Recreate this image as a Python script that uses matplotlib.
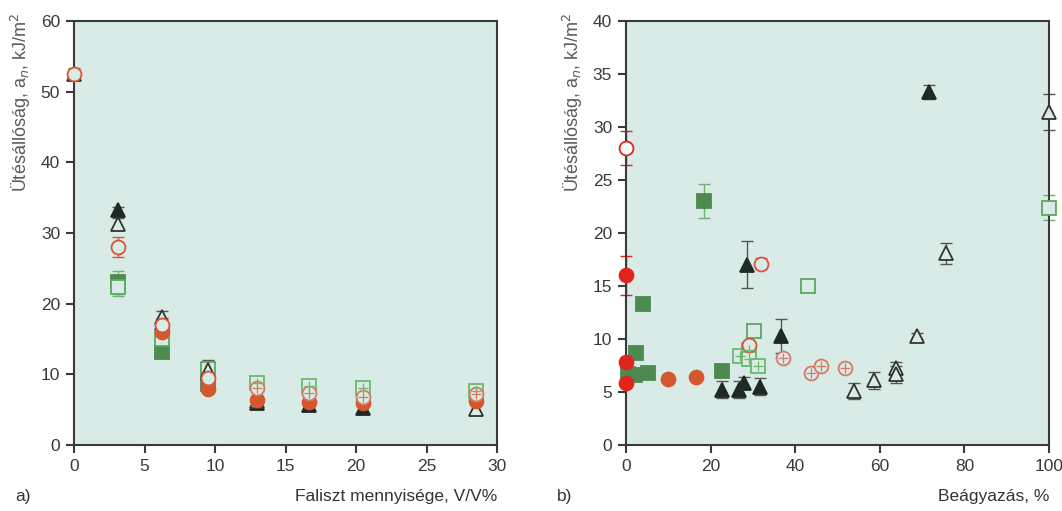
import matplotlib.pyplot as plt

plt.rcParams["font.family"] = ["Liberation Sans", "DejaVu Sans"]

# a) ütésállóság a faliszt mennyiségének függvényében
a_x_tri_f = [3.1, 6.25, 9.5, 13.0, 16.7, 20.5]
a_y_tri_f = [33.2, 17.2, 10.2, 5.9, 5.6, 5.2]
a_e_tri_f = [0.5, 0.8, 0.8, 0.6, 0.5, 0.5]

a_x_tri_o = [0.0, 3.1, 6.25, 9.5, 13.0, 28.5]
a_y_tri_o = [52.5, 31.3, 18.1, 10.6, 6.3, 5.1]
a_e_tri_o = [0.6, 0.8, 0.9, 1.4, 0.6, 0.8]

a_x_circ_o = [0.0, 3.1, 6.25, 9.5]
a_y_circ_o = [52.5, 28.0, 17.0, 9.5]
a_e_circ_o = [0.8, 1.4, 0.8, 0.7]

a_x_circ_f = [6.25, 9.5, 13.0, 16.7, 20.5, 28.5]
a_y_circ_f = [16.0, 7.9, 6.4, 6.1, 6.0, 6.3]
a_e_circ_f = [0.8, 0.4, 0.4, 0.4, 0.3, 0.4]

a_x_circ_x = [13.0, 16.7, 20.5, 28.5]
a_y_circ_x = [8.1, 7.4, 6.8, 7.2]
a_e_circ_x = [0.5, 0.4, 0.4, 0.4]

a_x_sq_f = [3.1, 6.25, 9.5]
a_y_sq_f = [23.0, 13.2, 8.7]
a_e_sq_f = [1.6, 0.4, 0.4]

a_x_sq_o = [3.1, 6.25, 9.5]
a_y_sq_o = [22.3, 15.0, 10.7]
a_e_sq_o = [1.2, 0.5, 0.5]

a_x_sq_x = [13.0, 16.7, 20.5, 28.5]
a_y_sq_x = [8.8, 8.4, 8.1, 7.6]
a_e_sq_x = [0.5, 0.5, 0.5, 0.4]

# b) ütésállóság a beágyazás függvényében
b_x_red_o = [0.0]
b_y_red_o = [28.0]
b_e_red_o = [1.6]

b_x_red_f = [0.0, 0.0, 0.0]
b_y_red_f = [16.0, 7.8, 5.9]
b_e_red_f = [1.8, 0.3, 0.3]

b_x_circ_o = [29.1, 31.8]
b_y_circ_o = [9.4, 17.1]
b_e_circ_o = [0.4, 0.5]

b_x_circ_f = [10.0, 16.6]
b_y_circ_f = [6.2, 6.4]
b_e_circ_f = [0.2, 0.2]

b_x_circ_x = [37.0, 43.7, 46.0, 51.8]
b_y_circ_x = [8.2, 6.8, 7.5, 7.3]
b_e_circ_x = [0.3, 0.3, 0.3, 0.3]

b_x_sq_f = [0.5, 2.0, 2.4, 3.9, 5.1, 18.5, 22.6]
b_y_sq_f = [6.7, 6.6, 8.7, 13.3, 6.8, 23.0, 7.0]
b_e_sq_f = [0.2, 0.2, 0.2, 0.2, 0.2, 1.6, 0.2]

b_x_sq_o = [30.3, 42.9, 100.0]
b_y_sq_o = [10.8, 15.0, 22.4]
b_e_sq_o = [0.2, 0.2, 1.2]

b_x_sq_x = [27.0, 29.1, 29.1, 31.1]
b_y_sq_x = [8.4, 9.0, 8.1, 7.5]
b_e_sq_x = [0.2, 0.2, 0.2, 0.2]

b_x_tri_f = [22.6, 26.8, 27.9, 31.7, 28.5, 36.6, 71.7]
b_y_tri_f = [5.2, 5.2, 5.9, 5.5, 17.0, 10.3, 33.3]
b_e_tri_f = [0.8, 0.8, 0.5, 0.8, 2.2, 1.6, 0.7]

b_x_tri_o = [54.0, 58.5, 63.8, 63.8, 68.9, 75.7, 100.0]
b_y_tri_o = [5.1, 6.1, 7.3, 6.7, 10.3, 18.1, 31.4]
b_e_tri_o = [0.8, 0.8, 0.5, 0.8, 0.3, 1.0, 1.7]

BG = "#d8ebe6"
AX = "#3a3a3a"

STYLES = {
    "tri_f": dict(marker="^", mfc="#1f2a26", mec="#1f2a26", ecolor="#555555"),
    "tri_o": dict(marker="^", mfc=BG, mec="#333333", ecolor="#555555"),
    "circ_o": dict(marker="o", mfc=BG, mec="#d9553a", ecolor="#d9553a"),
    "circ_f": dict(marker="o", mfc="#d4572e", mec="#d4572e", ecolor="#d4572e"),
    "circ_x": dict(marker="o", mfc=BG, mec="#d77a66", ecolor="#d77a66"),
    "red_o": dict(marker="o", mfc="white", mec="#e0251e", ecolor="#e0251e"),
    "red_f": dict(marker="o", mfc="#e0251e", mec="#e0251e", ecolor="#e0251e"),
    "sq_f": dict(marker="s", mfc="#4c8a50", mec="#4c8a50", ecolor="#6fb172"),
    "sq_o": dict(marker="s", mfc=BG, mec="#5aa85e", ecolor="#6fb172"),
    "sq_x": dict(marker="s", mfc=BG, mec="#6db86e", ecolor="#6fb172"),
}


def draw(ax, x, y, err, key, ms=10):
    st = STYLES[key]
    ax.errorbar(x, y, yerr=err, fmt="none", ecolor=st["ecolor"],
                elinewidth=1.0, capsize=4, capthick=1.0, zorder=2)
    ax.plot(x, y, linestyle="none", marker=st["marker"], ms=ms,
            mfc=st["mfc"], mec=st["mec"], mew=1.3, zorder=3)
    if key.endswith("_x"):
        ax.plot(x, y, linestyle="none", marker="+", ms=ms * 0.75,
                color=st["mec"], mew=0.9, zorder=4)


def style_axes(ax, xlim, ylim, xticks, yticks):
    ax.set_facecolor(BG)
    ax.set_xlim(*xlim)
    ax.set_ylim(*ylim)
    ax.set_xticks(xticks)
    ax.set_yticks(yticks)
    for s in ax.spines.values():
        s.set_color(AX)
        s.set_linewidth(1.5)
    ax.tick_params(direction="out", length=6, width=1.5, color=AX,
                   labelsize=12.5, labelcolor="#3a3a3a", pad=4)
    ax.set_ylabel("Ütésállóság, a$_n$, kJ/m$^2$", fontsize=13,
                  color="#5a5a5a", loc="top")
    ax.yaxis.set_label_coords(-0.098, 1.02)


fig = plt.figure(figsize=(10.62, 5.11), dpi=100)
ax1 = fig.add_axes([0.0697, 0.129, 0.3983, 0.830])
ax2 = fig.add_axes([0.5895, 0.129, 0.3983, 0.830])

style_axes(ax1, (0, 30), (0, 60), range(0, 31, 5), range(0, 61, 10))
style_axes(ax2, (0, 100), (0, 40), range(0, 101, 20), range(0, 41, 5))

draw(ax1, a_x_sq_f, a_y_sq_f, a_e_sq_f, "sq_f")
draw(ax1, a_x_sq_o, a_y_sq_o, a_e_sq_o, "sq_o")
draw(ax1, a_x_sq_x, a_y_sq_x, a_e_sq_x, "sq_x")
draw(ax1, a_x_tri_f, a_y_tri_f, a_e_tri_f, "tri_f")
draw(ax1, a_x_tri_o, a_y_tri_o, a_e_tri_o, "tri_o")
draw(ax1, a_x_circ_f, a_y_circ_f, a_e_circ_f, "circ_f")
draw(ax1, a_x_circ_x, a_y_circ_x, a_e_circ_x, "circ_x")
draw(ax1, a_x_circ_o, a_y_circ_o, a_e_circ_o, "circ_o")

draw(ax2, b_x_sq_f, b_y_sq_f, b_e_sq_f, "sq_f")
draw(ax2, b_x_sq_o, b_y_sq_o, b_e_sq_o, "sq_o")
draw(ax2, b_x_sq_x, b_y_sq_x, b_e_sq_x, "sq_x")
draw(ax2, b_x_tri_f, b_y_tri_f, b_e_tri_f, "tri_f")
draw(ax2, b_x_tri_o, b_y_tri_o, b_e_tri_o, "tri_o")
draw(ax2, b_x_circ_f, b_y_circ_f, b_e_circ_f, "circ_f")
draw(ax2, b_x_circ_x, b_y_circ_x, b_e_circ_x, "circ_x")
draw(ax2, b_x_circ_o, b_y_circ_o, b_e_circ_o, "circ_o")
draw(ax2, b_x_red_f, b_y_red_f, b_e_red_f, "red_f")
draw(ax2, b_x_red_o, b_y_red_o, b_e_red_o, "red_o")

for a in (ax1, ax2):
    for m in a.lines:
        m.set_clip_on(False)

fig.text(0.468, 0.02, "Faliszt mennyisége, V/V%", ha="right", fontsize=12.5, color="#333333")
fig.text(0.988, 0.02, "Beágyazás, %", ha="right", fontsize=12.5, color="#333333")
fig.text(0.014, 0.02, "a)", fontsize=12.5, color="#333333")
fig.text(0.524, 0.02, "b)", fontsize=12.5, color="#333333")

fig.savefig("out.png", dpi=100)
